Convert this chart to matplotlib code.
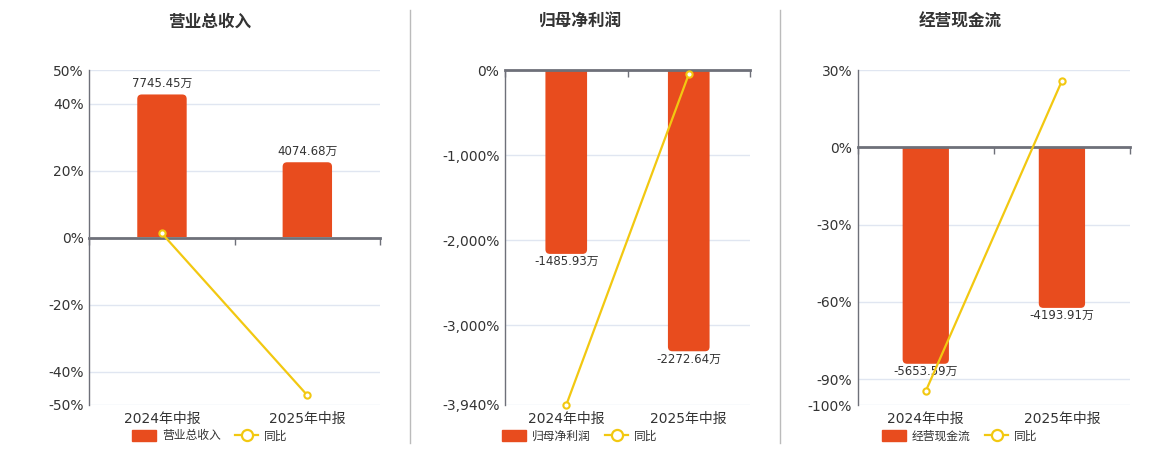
import matplotlib
matplotlib.use("Agg")
import matplotlib.pyplot as plt
from matplotlib.ticker import FuncFormatter
from matplotlib.patches import Patch, FancyBboxPatch, Rectangle
from matplotlib.lines import Line2D

plt.rcParams['font.family'] = ['DejaVu Sans', 'Noto Sans CJK SC']

categories = ["2024年中报", "2025年中报"]

titles = ["营业总收入", "归母净利润", "经营现金流"]
bar_values = [
    [7745.45, 4074.68],
    [-1485.93, -2272.64],
    [-5653.59, -4193.91],
]
yoy_values = [
    [1.2, -47.1],
    [-3940.0, -50.6],
    [-94.6, 25.8],
]
pct_ticks = [
    [50, 40, 20, 0, -20, -40, -50],
    [0, -1000, -2000, -3000, -3940],
    [30, 0, -30, -60, -90, -100],
]
pct_limits = [(-50, 50), (-3940, 0), (-100, 30)]
# 万 per percent-point of the hidden bar axis
bar_scale = [181.4, 0.687, 67.3]

BAR = '#E84C1E'
LINE = '#F2C811'
AXIS = '#6E7079'
GRID = '#E0E6F1'
TXT = '#333333'

W, H = 1160, 450
fig = plt.figure(figsize=(W / 100, H / 100), dpi=100)

panels_px = [(89.3, 380), (505, 750), (857.7, 1130)]
centers_px = [210, 580, 960]
top_px, bot_px = 70, 405
radius_px = 4.5

for i in range(3):
    l, r = panels_px[i]
    rect = [l / W, 1 - bot_px / H, (r - l) / W, (bot_px - top_px) / H]
    ax = fig.add_axes(rect)
    axb = ax.twinx()
    axl = ax.twinx()

    lo, hi = pct_limits[i]
    x = list(range(len(categories)))
    for a in (ax, axb, axl):
        a.set_xlim(-0.5, 1.5)
    ax.set_ylim(lo, hi)
    axl.set_ylim(lo, hi)
    blo, bhi = lo * bar_scale[i], hi * bar_scale[i]
    axb.set_ylim(blo, bhi)

    # base axis: ticks, grid
    ax.set_yticks(pct_ticks[i])
    ax.yaxis.set_major_formatter(FuncFormatter(lambda v, p: f"{v:,.0f}%"))
    ax.tick_params(axis='y', length=0, labelsize=10, labelcolor=TXT, pad=4)
    ax.set_xticks(x)
    ax.set_xticklabels(categories)
    ax.tick_params(axis='x', length=0, labelsize=10, labelcolor=TXT, pad=5)
    ax.grid(axis='y', color=GRID, lw=1)
    ax.set_axisbelow(True)
    for s in ('top', 'right', 'bottom'):
        ax.spines[s].set_visible(False)
    ax.spines['left'].set_color(AXIS)
    ax.spines['left'].set_linewidth(1)

    # bars (rounded on the far end only)
    bars = axb.bar(x, bar_values[i], width=0.34, color=BAR, zorder=2)
    labels = [f"{v:.2f}万" for v in bar_values[i]]
    axb.bar_label(bars, labels=labels, padding=3 if i == 0 else 1,
                  fontsize=8.5, color=TXT)
    xu = 2.0 / (r - l)                      # x data units per px
    yu = (bhi - blo) / (bot_px - top_px)    # y data units per px
    ext = 3 * radius_px * yu
    for p in bars.patches:
        bx, by, bw, bh = p.get_x(), p.get_y(), p.get_width(), p.get_height()
        p.set_visible(False)
        if bh >= 0:
            y0, hh = -ext, bh + ext
            clip = Rectangle((bx - 1, 0), bw + 2, bh + ext, transform=axb.transData)
        else:
            y0, hh = bh, -bh + ext
            clip = Rectangle((bx - 1, bh - ext), bw + 2, -bh + ext, transform=axb.transData)
        rp = FancyBboxPatch((bx, y0), bw, hh,
                            boxstyle=f"round,pad=0,rounding_size={radius_px * xu}",
                            mutation_aspect=yu / xu, fc=BAR, ec='none', zorder=2)
        axb.add_patch(rp)
        rp.set_clip_path(clip)
    axb.axis('off')

    # line
    axl.plot(x, yoy_values[i], color=LINE, lw=1.6, marker='o', ms=4.5,
             mfc='white', mec=LINE, mew=1.5, zorder=3, clip_on=False)
    axl.axis('off')

    # zero axis line with category boundary ticks
    sec = axl.secondary_xaxis(0, transform=axl.transData)
    sec.set_xticks([-0.5, 0.5, 1.5])
    sec.set_xticklabels([])
    sec.tick_params(axis='x', length=5, width=1, color=AXIS, direction='out')
    sec.spines['bottom'].set_color(AXIS)
    sec.spines['bottom'].set_linewidth(2)
    for s in ('top', 'left', 'right'):
        sec.spines[s].set_visible(False)

    # title
    fig.text(centers_px[i] / W, 1 - 22 / H, titles[i], ha='center', va='center',
             fontsize=12, fontweight='bold', color=TXT)

    # legend
    handles = [
        Patch(facecolor=BAR, edgecolor=BAR, label=titles[i]),
        Line2D([0], [0], color=LINE, lw=1.6, marker='o', ms=8, mfc='white',
               mec=LINE, mew=1.6, label='同比'),
    ]
    fig.legend(handles=handles, loc='center', bbox_to_anchor=(centers_px[i] / W, 1 - 436 / H),
               ncol=2, frameon=False, fontsize=8.5, labelcolor=TXT,
               handlelength=2.0, handleheight=1.1, columnspacing=1.2, handletextpad=0.5)

# dividers
for xp in (410, 780):
    fig.add_artist(Line2D([xp / W, xp / W], [1 - 10 / H, 1 - 443 / H],
                          color='#BBBBBB', lw=1, transform=fig.transFigure))

fig.savefig("out.png", dpi=100)
